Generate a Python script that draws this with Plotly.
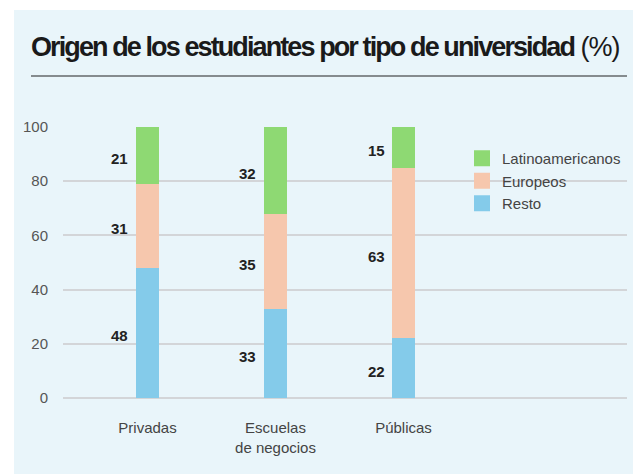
import plotly.graph_objects as go

categories = ["Privadas", "Escuelas<br>de negocios", "Públicas"]
resto = [48, 33, 22]
europeos = [31, 35, 63]
latino = [21, 32, 15]
series_names = ["Resto", "Europeos", "Latinoamericanos"]
y_ticks = [0, 20, 40, 60, 80, 100]

colors = {"Resto": "#84CBEA", "Europeos": "#F6C7AD", "Latinoamericanos": "#8ED973"}
BG = "#E9F5FA"
FONT = "Liberation Sans, Arial, sans-serif"

OFF = 8  # page body margin
W, H = 641 - OFF, 474 - OFF
L, R, T, B = 63 - OFF, 14, 127 - OFF, 76
pw, ph = W - L - R, H - T - B

def px_x(x):  # x in window pixels
    return (x - OFF - L) / pw

def px_y(y):  # y in window pixels
    return (H - B - (y - OFF)) / ph

fig = go.Figure()
series = {"Resto": resto, "Europeos": europeos, "Latinoamericanos": latino}
for name in series_names:
    fig.add_trace(go.Bar(x=categories, y=series[name], name=name, width=0.18,
                         marker=dict(color=colors[name], line=dict(width=0)),
                         showlegend=False, hoverinfo="skip"))

# legend swatches
for name in ["Latinoamericanos", "Europeos", "Resto"]:
    fig.add_trace(go.Scatter(x=[None], y=[None], mode="markers", name=name,
                             marker=dict(symbol="square", size=16, color=colors[name],
                                         line=dict(width=0))))

# value labels to the left of each segment
for i, cat in enumerate(categories):
    base = 0
    for name in series_names:
        v = series[name][i]
        fig.add_annotation(x=cat, y=base + v / 2, text=str(v), showarrow=False,
                           xanchor="right", yanchor="middle", xshift=-17, yshift=-3,
                           font=dict(family=FONT, size=15, color="#222222", weight=600))
        base += v

shapes = [
    dict(type="rect", xref="paper", yref="paper", layer="below",
         x0=px_x(14), x1=px_x(660), y0=px_y(490), y1=px_y(10),
         fillcolor=BG, line=dict(width=0)),
    dict(type="line", xref="paper", yref="paper",
         x0=px_x(31), x1=px_x(627), y0=px_y(76), y1=px_y(76),
         line=dict(color="#222222", width=1.2)),
]
fig.update_layout(shapes=shapes)

fig.add_annotation(xref="paper", yref="paper", x=px_x(29), y=px_y(47),
                   xanchor="left", yanchor="middle", showarrow=False,
                   text='<span style="letter-spacing:-1.9px"><b>Origen de los estudiantes por tipo de universidad</b></span>'
                        '<span style="letter-spacing:-1px"> (%)</span>',
                   font=dict(family=FONT, size=27, color="#1a1a1a"))

fig.update_layout(
    width=W, height=H,
    margin=dict(l=L, r=R, t=T, b=B, pad=0),
    paper_bgcolor="white", plot_bgcolor="rgba(0,0,0,0)",
    barmode="stack",
    font=dict(family=FONT, size=15, color="#444444"),
    xaxis=dict(type="category", range=[-0.66, 3.746], showgrid=False, zeroline=False,
               showline=False, ticks="", ticklabelstandoff=19,
               tickfont=dict(family=FONT, size=15, color="#444444")),
    yaxis=dict(range=[0, 100], tickvals=y_ticks, showgrid=True, gridcolor="#D3D5D8",
               gridwidth=1.5, zeroline=True, zerolinecolor="#D3D5D8", zerolinewidth=1.5,
               showline=False, ticks="", ticklabelstandoff=14,
               tickfont=dict(family=FONT, size=15, color="#555555")),
    legend=dict(x=px_x(462), y=px_y(142), xanchor="left", yanchor="top",
                bgcolor="rgba(0,0,0,0)", traceorder="normal", tracegroupgap=0,
                itemwidth=30, font=dict(family=FONT, size=15, color="#444444")),
    showlegend=True,
)

fig.write_html("out.html")
